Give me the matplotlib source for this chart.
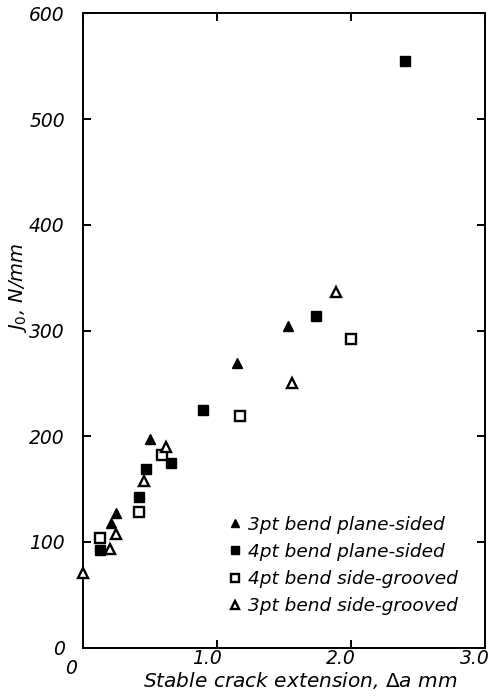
import matplotlib.pyplot as plt
import matplotlib.transforms as mtransforms

plt.rcParams['font.family'] = 'DejaVu Sans'
plt.rcParams['mathtext.fontset'] = 'dejavusans'

# Stable crack extension (mm) and J0 (N/mm) for each series
tri_plane_x = [0.21, 0.25, 0.50, 1.15, 1.53]
tri_plane_j = [118, 127, 197, 269, 304]

sq_plane_x = [0.13, 0.42, 0.47, 0.66, 0.90, 1.74, 2.40]
sq_plane_j = [92, 143, 169, 175, 225, 314, 555]

sq_groove_x = [0.13, 0.42, 0.59, 1.17, 2.00]
sq_groove_j = [104, 128, 182, 219, 292]

tri_groove_x = [0.0, 0.20, 0.25, 0.46, 0.62, 1.56, 1.89]
tri_groove_j = [71, 93, 108, 158, 190, 250, 336]

labels = ["3pt bend plane-sided", "4pt bend plane-sided",
          "4pt bend side-grooved", "3pt bend side-grooved"]

fig = plt.figure(figsize=(5.02, 6.98), dpi=100)
ax = fig.add_axes([0.165, 0.072, 0.801, 0.909])

ms = 7
ax.plot(tri_plane_x, tri_plane_j, '^', color='black', ms=ms, label=labels[0], clip_on=False)
ax.plot(sq_plane_x, sq_plane_j, 's', color='black', ms=ms, label=labels[1], clip_on=False)
ax.plot(sq_groove_x, sq_groove_j, 's', mfc='white', mec='black', mew=1.7, ms=ms,
        label=labels[2], clip_on=False)
ax.plot(tri_groove_x, tri_groove_j, '^', mfc='white', mec='black', mew=1.7, ms=ms,
        label=labels[3], clip_on=False, zorder=5)

ax.set_xlim(0, 3.0)
ax.set_ylim(0, 600)
ax.set_xticks([0, 1.0, 2.0, 3.0])
ax.set_xticklabels(["0", "1.0", "2.0", "3.0"])
ax.set_yticks(range(0, 601, 100))

for s in ax.spines.values():
    s.set_linewidth(1.4)
ax.tick_params(direction='in', length=6, width=1.4, top=True, right=True,
               labelsize=13.5)
ax.tick_params(axis='y', pad=13)
ax.tick_params(axis='x', pad=1)
for t in ax.get_xticklabels() + ax.get_yticklabels():
    t.set_style('italic')

# shift x tick labels slightly left, the "0" down and left
xl = ax.get_xticklabels()
off = mtransforms.ScaledTranslation(-10 / 100, 0, fig.dpi_scale_trans)
for t in xl[1:]:
    t.set_transform(t.get_transform() + off)
off0 = mtransforms.ScaledTranslation(-12 / 100, -10 / 100, fig.dpi_scale_trans)
xl[0].set_transform(xl[0].get_transform() + off0)

ax.set_ylabel(r"$J_0$, N/mm", fontsize=14, style='italic')
ax.yaxis.set_label_coords(-0.135, 0.568)
ax.set_xlabel(r"Stable crack extension, $\Delta$a mm", fontsize=14.5,
              style='italic')
ax.xaxis.set_label_coords(0.54, -0.035)

leg = ax.legend(loc='lower right', bbox_to_anchor=(0.975, 0.025), frameon=False,
                prop={'size': 13.3, 'style': 'italic'}, handlelength=0.6,
                handletextpad=0.4, labelspacing=0.5, markerscale=0.75)

fig.savefig("out.png", dpi=100)
